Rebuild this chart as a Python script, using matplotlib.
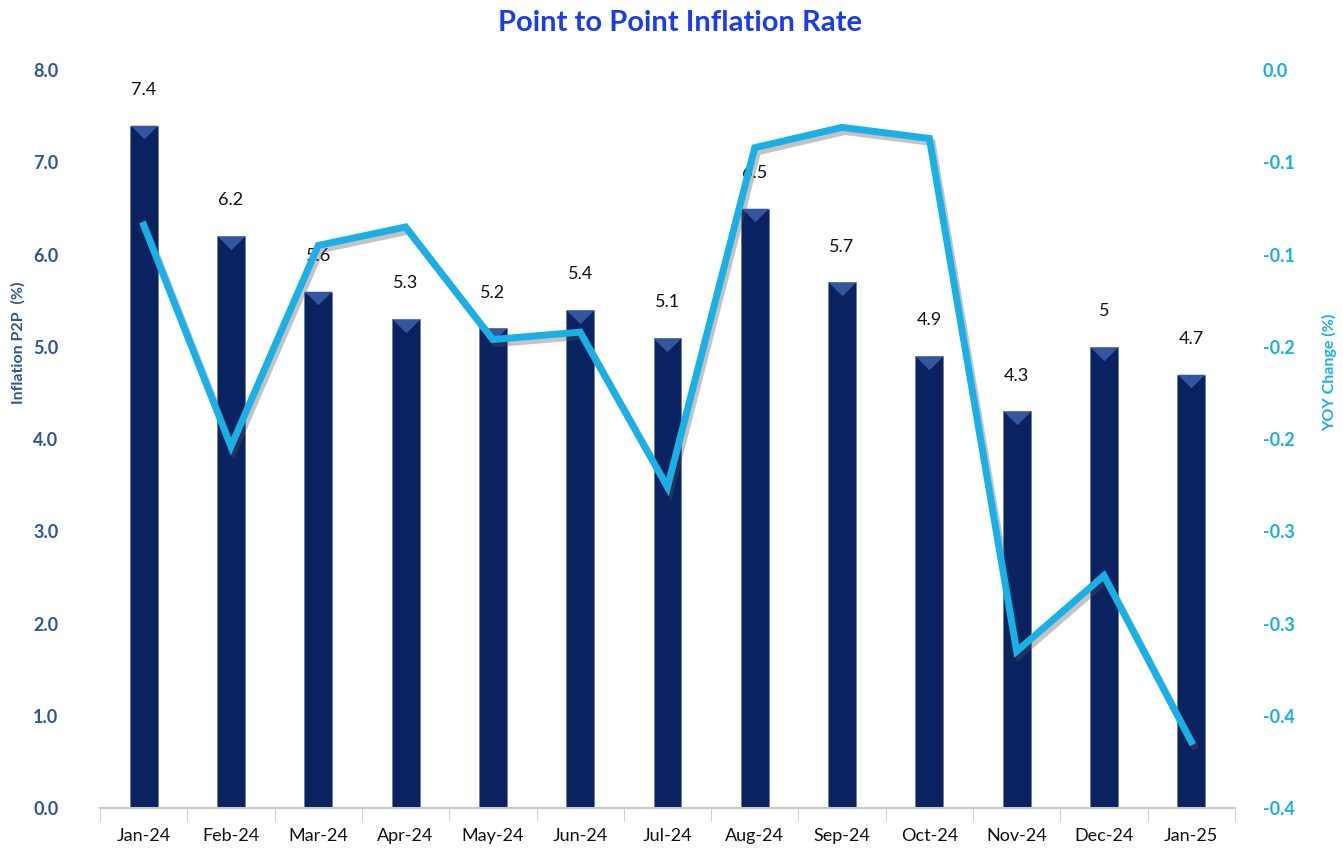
import matplotlib.pyplot as plt
import matplotlib.patheffects as pe
import numpy as np

plt.rcParams['font.family'] = ['Lato', 'DejaVu Sans']

months = ['Jan-24', 'Feb-24', 'Mar-24', 'Apr-24', 'May-24', 'Jun-24', 'Jul-24',
          'Aug-24', 'Sep-24', 'Oct-24', 'Nov-24', 'Dec-24', 'Jan-25']
p2p = [7.4, 6.2, 5.6, 5.3, 5.2, 5.4, 5.1, 6.5, 5.7, 4.9, 4.3, 5.0, 4.7]
p2p_labels = ['7.4', '6.2', '5.6', '5.3', '5.2', '5.4', '5.1', '6.5', '5.7', '4.9', '4.3', '5', '4.7']
yoy = [-0.084, -0.204, -0.095, -0.085, -0.146, -0.142, -0.226,
       -0.042, -0.031, -0.037, -0.315, -0.274, -0.364]

left_ticks = [0, 1, 2, 3, 4, 5, 6, 7, 8]
right_ticks = [0.0, -0.05, -0.10, -0.15, -0.20, -0.25, -0.30, -0.35, -0.40]
right_tick_labels = ['0.0', '-0.1', '-0.1', '-0.2', '-0.2', '-0.3', '-0.3', '-0.4', '-0.4']

navy = '#0b2260'
bevel = '#34559f'
cyan = '#18b0e6'
left_col = '#2f5597'

fig = plt.figure(figsize=(13.43, 8.56), dpi=100)
ax = fig.add_axes([0.0745, 0.056, 0.845, 0.862])
x = np.arange(len(months))

ax.bar(x, p2p, width=0.32, color=navy, edgecolor='#6f7f9f', linewidth=0.6, zorder=2)
# bevelled top of each bar (flat downward triangle)
bevel_marker = [(-1, 0.5), (1, 0.5), (0, -0.5), (-1, 0.5)]
ax.scatter(x, np.array(p2p) - 0.075, marker=bevel_marker, s=380, color=bevel,
           zorder=3, linewidths=0)

for xi, v, lab in zip(x, p2p, p2p_labels):
    ax.annotate(lab, (xi, v), xytext=(0, 20), textcoords='offset points',
                ha='center', va='bottom', fontsize=13, color='#111111', zorder=6)

ax.set_xlim(-0.5, len(months) - 0.5)
ax.set_ylim(0, 8)
ax.set_yticks(left_ticks)
ax.set_yticklabels([f'{t:.1f}' for t in left_ticks], color=left_col, fontsize=13, fontweight='bold')
ax.set_xticks(x)
ax.set_xticklabels(months, fontsize=13, color='#111111')
ax.set_xticks(np.arange(-0.5, len(months)), minor=True)
ax.tick_params(axis='x', which='major', length=0, pad=14)
ax.tick_params(axis='x', which='minor', length=9, color='#c8c8c8')
ax.tick_params(axis='y', length=0, pad=30)
for s in ['top', 'left', 'right']:
    ax.spines[s].set_visible(False)
ax.spines['bottom'].set_color('#c8c8c8')
ax.spines['bottom'].set_linewidth(1.5)

ax2 = ax.twinx()
ax2.plot(x, yoy, color=cyan, linewidth=5, solid_joinstyle='miter', zorder=5,
         path_effects=[pe.SimpleLineShadow(offset=(2, -3), shadow_color='#555555', alpha=0.35),
                       pe.Normal()])
ax2.set_ylim(-0.40, 0.0)
ax2.set_yticks(right_ticks)
ax2.set_yticklabels(right_tick_labels, color=cyan, fontsize=13, fontweight='bold')
ax2.tick_params(axis='y', length=0, pad=20)
for s in ['top', 'left', 'right', 'bottom']:
    ax2.spines[s].set_visible(False)

fig.text(0.014, 0.60, 'Inflation P2P  (%)', rotation=90, ha='center', va='center',
         color=left_col, fontsize=11.5, fontweight='bold')
fig.text(0.990, 0.565, 'YOY Change (%)', rotation=90, ha='center', va='center',
         color=cyan, fontsize=11.5, fontweight='bold')

fig.suptitle('Point to Point Inflation Rate', x=0.506, y=0.988, color='#1a3cf0',
             fontsize=21, fontweight='bold')

fig.savefig('out.png', dpi=100)
